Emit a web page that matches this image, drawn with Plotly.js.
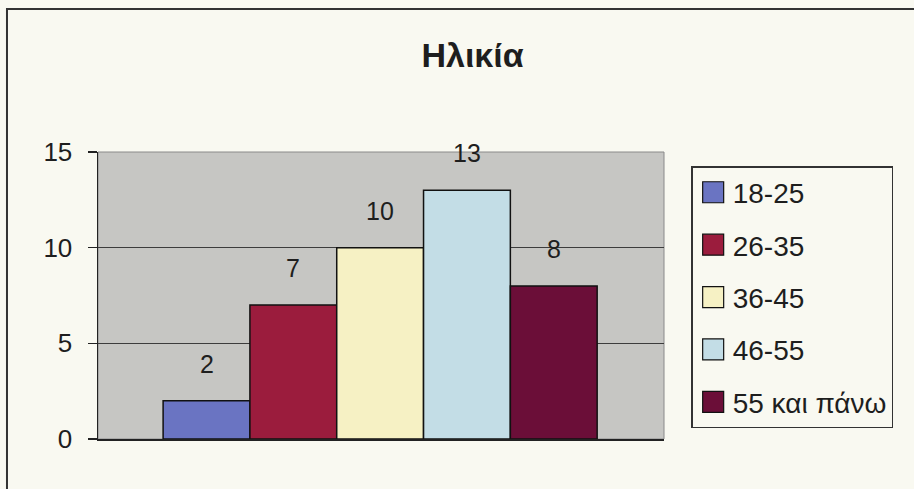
<!DOCTYPE html>
<html>
<head>
<meta charset="utf-8">
<script src="https://cdn.plot.ly/plotly-3.0.1.min.js"></script>
<style>
  html, body { margin: 0; padding: 0; background: #f9f9f1; }
  #chart { width: 914px; height: 489px; }
</style>
</head>
<body>
<div id="chart"></div>
<script>
// Age groups and respondent counts
const ageGroups = ['18-25', '26-35', '36-45', '46-55', '55 και πάνω'];
const counts = [2, 7, 10, 13, 8];
const barColors = ['#6a74c2', '#9b1c3d', '#f6f1c4', '#c3dde6', '#6b0e38'];
const yTicks = [0, 5, 10, 15];

const FONT = '"Liberation Sans", Arial, sans-serif';
const TEXT_COLOR = '#1e1e1e';

// one trace per age group so each gets its own legend entry
const traces = ageGroups.map((g, i) => ({
  type: 'bar',
  name: g,
  x: [g],
  y: [counts[i]],
  legendgroup: g,
  marker: { color: barColors[i], line: { color: '#111', width: 1.5 } },
  hoverinfo: 'skip'
}));

// value labels floating above each bar
const valueLabels = ageGroups.map((g, i) => ({
  x: g,
  y: counts[i],
  text: String(counts[i]),
  showarrow: false,
  yanchor: 'middle',
  yshift: 37,
  font: { family: FONT, size: 25, color: TEXT_COLOR }
}));

const layout = {
  width: 914,
  height: 489,
  margin: { l: 98, r: 250, t: 152, b: 50 },
  paper_bgcolor: '#f9f9f1',
  plot_bgcolor: '#c6c6c3',
  font: { family: FONT, color: TEXT_COLOR },
  title: {
    text: '<b>Ηλικία</b>',
    font: { family: FONT, size: 34, color: TEXT_COLOR },
    x: 0.517, xanchor: 'center', xref: 'container',
    y: 0.888, yanchor: 'middle', yref: 'container'
  },
  barmode: 'overlay',
  bargap: 0,
  xaxis: {
    type: 'category',
    range: [-1.25, 5.27],
    showticklabels: false,
    ticks: '',
    showgrid: false,
    zeroline: false,
    showline: true,
    linecolor: '#222',
    linewidth: 1.5,
    fixedrange: true
  },
  yaxis: {
    range: [0, 15],
    tickvals: yTicks,
    ticktext: yTicks.map(String),
    ticks: 'outside',
    ticklen: 9,
    tickwidth: 1.5,
    tickcolor: '#222',
    ticklabelstandoff: 10,
    tickfont: { family: FONT, size: 26, color: TEXT_COLOR },
    showgrid: true,
    gridcolor: '#3c3c3c',
    gridwidth: 1.5,
    zeroline: false,
    showline: true,
    linecolor: '#222',
    linewidth: 1.5,
    fixedrange: true
  },
  showlegend: true,
  legend: {
    x: 1.048, xanchor: 'left',
    y: 0.951, yanchor: 'top',
    bgcolor: 'rgba(0,0,0,0)',
    bordercolor: '#333',
    borderwidth: 1.5,
    font: { family: FONT, size: 28, color: TEXT_COLOR },
    traceorder: 'grouped',
    tracegroupgap: 13,
    itemwidth: 30
  },
  annotations: valueLabels,
  shapes: [
    // plot area border (top and right edges)
    { type: 'rect', xref: 'paper', yref: 'paper', x0: 0, x1: 1, y0: 0, y1: 1,
      line: { color: '#8a8a8a', width: 1 }, layer: 'below' },
    // chart frame
    { type: 'rect', xref: 'paper', yref: 'paper', x0: -0.1608, x1: 1.445, y0: -0.195, y1: 1.498,
      line: { color: '#333', width: 2 } }
  ]
};

Plotly.newPlot('chart', traces, layout, { displayModeBar: false, staticPlot: true }).then(gd => {
  // enlarge the legend swatches to square blocks
  gd.querySelectorAll('.legend .legendpoints path').forEach(p => {
    p.setAttribute('d', 'M11,10.5H-10V-10.5H11Z');
    p.style.strokeWidth = '1.2px';
  });
});
</script>
</body>
</html>
